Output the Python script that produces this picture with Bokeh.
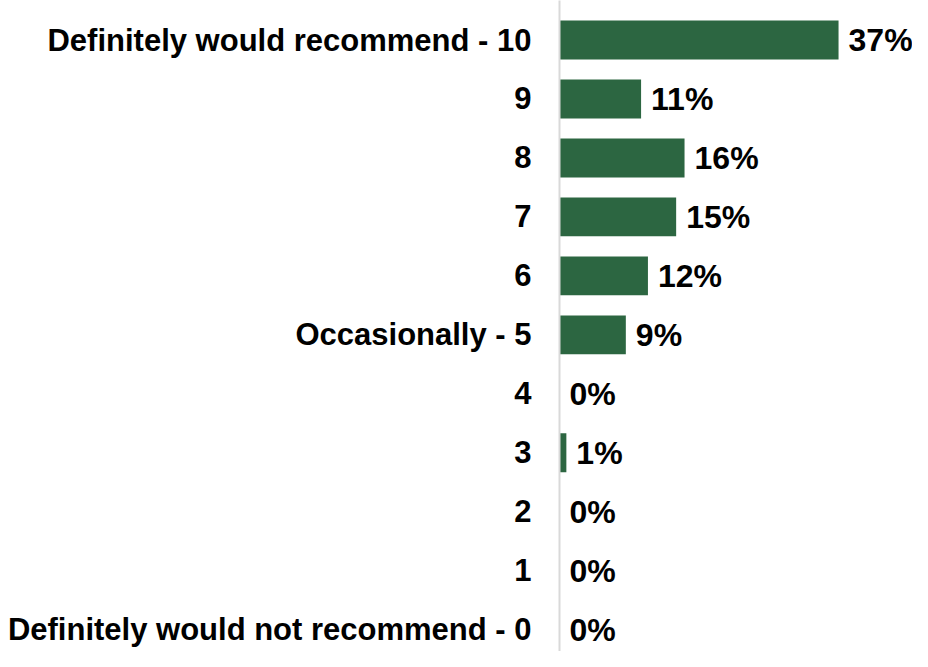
from bokeh.plotting import figure
from bokeh.models import ColumnDataSource, FixedTicker, Range1d
from bokeh.core.properties import value
from bokeh.embed import file_html
from bokeh.resources import INLINE

categories = ["Definitely would recommend - 10", "9", "8", "7", "6", "Occasionally - 5",
              "4", "3", "2", "1", "Definitely would not recommend - 0"]
scores = [10, 9, 8, 7, 6, 5, 4, 3, 2, 1, 0]
percent = [36.6, 10.7, 16.4, 15.3, 11.6, 8.7, 0.0, 0.9, 0.0, 0.0, 0.0]
labels = ["37%", "11%", "16%", "15%", "12%", "9%", "0%", "1%", "0%", "0%", "0%"]

src = ColumnDataSource(dict(y=scores, v=percent, lab=labels))

p = figure(width=912, height=651, output_backend="svg", toolbar_location=None,
           x_range=Range1d(0, 46.3), y_range=Range1d(-0.37, 10.67),
           min_border_left=559, min_border_right=0, min_border_top=0, min_border_bottom=0)

p.hbar(y="y", left=0, right="v", height=0.66, source=src,
       fill_color="#2C6641", line_color=None)
p.text(x="v", y="y", text="lab", source=src, x_offset=10,
       text_baseline="middle", text_align="left",
       text_font=value("Liberation Sans"), text_font_style="bold",
       text_font_size="32px", text_color="#000000")

p.xaxis.visible = False
p.xgrid.visible = False
p.ygrid.visible = False
p.outline_line_color = None

ax = p.yaxis[0]
ax.ticker = FixedTicker(ticks=scores)
ax.major_label_overrides = {s: c for s, c in zip(scores, categories)}
ax.major_label_text_font = "Liberation Sans"
ax.major_label_text_font_style = "bold"
ax.major_label_text_font_size = "31px"
ax.major_label_text_color = "#000000"
ax.major_label_standoff = 28
ax.major_tick_line_color = None
ax.minor_tick_line_color = None
ax.major_tick_in = 0
ax.major_tick_out = 0
ax.minor_tick_in = 0
ax.minor_tick_out = 0
ax.axis_line_color = "#D9D9D9"
ax.axis_line_width = 2

open("out.html", "w").write(file_html(p, INLINE))
